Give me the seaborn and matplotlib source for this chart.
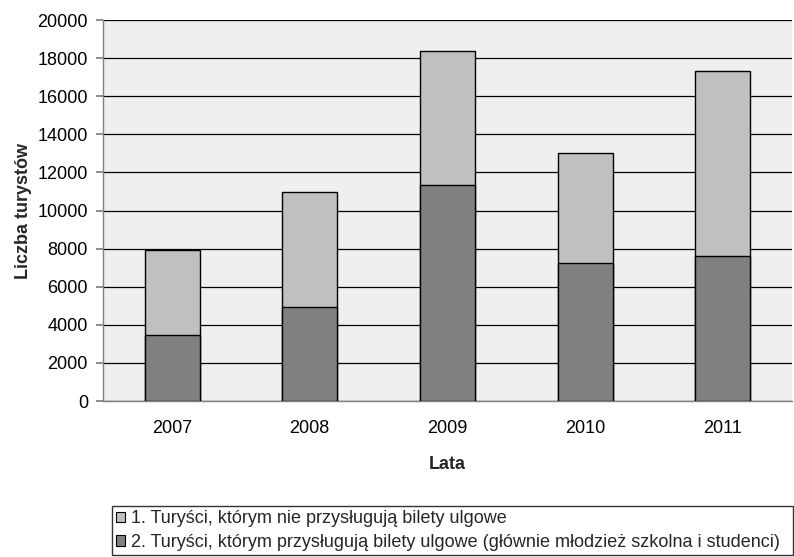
import numpy as np
import pandas as pd
import matplotlib
matplotlib.use('Agg')
import matplotlib.pyplot as plt
import seaborn as sns
from matplotlib.patches import Patch

years = ['2007', '2008', '2009', '2010', '2011']
reduced = [3450, 4950, 11350, 7250, 7600]       # bilety ulgowe
full = [4500, 6000, 7050, 5750, 9750]           # bez ulg
series_labels = ['1. Turyści, którym nie przysługują bilety ulgowe',
                 '2. Turyści, którym przysługują bilety ulgowe (głównie młodzież szkolna i studenci)']

sns.set_theme(style='white')
plt.rcParams['font.family'] = ['Liberation Sans', 'DejaVu Sans']
FS = 13

df = pd.DataFrame({'rok': years, 'ulgowe': reduced,
                   'razem': np.array(reduced) + np.array(full)})

fig = plt.figure(figsize=(7.94, 5.57), dpi=100)
ax = fig.add_axes([0.130, 0.280, 0.867, 0.684])
ax.set_facecolor('#efefef')

light, dark = '#c0c0c0', '#808080'
sns.barplot(data=df, x='rok', y='razem', color=light, width=0.4,
            edgecolor='black', linewidth=1, saturation=1, ax=ax, zorder=3)
sns.barplot(data=df, x='rok', y='ulgowe', color=dark, width=0.4,
            edgecolor='black', linewidth=1, saturation=1, ax=ax, zorder=3)

ax.set_ylim(0, 20000)
ax.set_xlim(-0.5, 4.5)
ax.set_yticks(np.arange(0, 20001, 2000))
ax.yaxis.grid(True, color='black', linewidth=0.9, zorder=1)
ax.set_axisbelow(True)
for s in ['top', 'right']:
    ax.spines[s].set_visible(False)
for s in ['left', 'bottom']:
    ax.spines[s].set_color('#808080')
    ax.spines[s].set_linewidth(1)

ax.set_xticks(np.arange(-0.5, 4.6, 1), minor=True)
ax.tick_params(axis='x', which='major', length=0, pad=14, labelsize=FS, colors='black')
ax.tick_params(axis='x', which='minor', length=5, color='#808080', direction='out')
ax.tick_params(axis='y', length=5, color='#808080', direction='out', labelsize=FS,
               colors='black', left=True, pad=6)
ax.set_xlabel('Lata', fontweight='bold', fontsize=FS, labelpad=13)
ax.set_ylabel('Liczba turystów', fontweight='bold', fontsize=FS, labelpad=4)

handles = [Patch(facecolor=light, edgecolor='black', linewidth=0.8),
           Patch(facecolor=dark, edgecolor='black', linewidth=0.8)]
leg = fig.legend(handles, series_labels, loc='lower left',
                 bbox_to_anchor=(0.141, 0.003, 0.858, 0.086), mode='expand',
                 fontsize=FS, frameon=True, fancybox=False, handlelength=0.5,
                 handleheight=0.5, handletextpad=0.3, borderpad=0.25,
                 labelspacing=0.35, borderaxespad=0)
leg.get_frame().set_edgecolor('black')
leg.get_frame().set_linewidth(1)

fig.savefig('out.png', dpi=100)
